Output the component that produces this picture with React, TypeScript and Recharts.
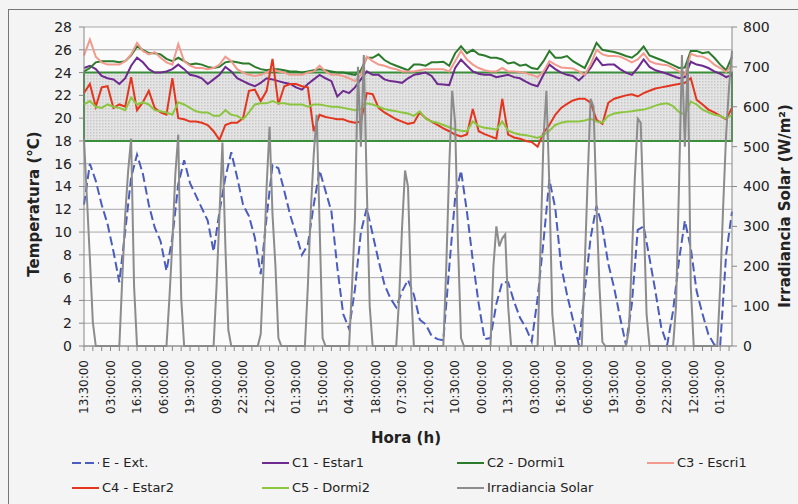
import { LineChart, Line, XAxis, YAxis, CartesianGrid, ReferenceArea } from 'recharts';

// time grid: hours since the first reading (13:30)
const TEMP_STEP = 3;
const SOLAR_STEP = 1.5;

const TICK_LABELS = [
  '13:30:00', '03:00:00', '16:30:00', '06:00:00', '19:30:00', '09:00:00', '22:30:00',
  '12:00:00', '01:30:00', '15:00:00', '04:30:00', '18:00:00', '07:30:00', '21:00:00',
  '10:30:00', '00:00:00', '13:30:00', '03:00:00', '16:30:00', '06:00:00', '19:30:00',
  '09:00:00', '22:30:00', '12:00:00', '01:30:00',
];
const TEMP_TICKS = [0, 2, 4, 6, 8, 10, 12, 14, 16, 18, 20, 22, 24, 26, 28];
const SOLAR_TICKS = [0, 100, 200, 300, 400, 500, 600, 700, 800];

// E - Ext. (°C), every 3 h
const EXT = [
  12.4, 16.0, 14.5, 12.4, 10.7, 8.3, 5.6, 10.1, 14.8, 16.8,
  15.1, 12.4, 10.4, 9.2, 6.6, 9.5, 14.2, 16.3, 14.3, 13.2,
  12.1, 11.0, 8.3, 11.8, 14.8, 17.0, 14.8, 12.4, 11.4, 9.5,
  6.3, 11.3, 15.9, 15.6, 13.6, 11.5, 9.8, 8.0, 8.9, 12.4,
  15.4, 13.6, 11.8, 6.9, 2.8, 1.5, 5.0, 10.0, 12.1, 9.8,
  7.5, 5.4, 4.2, 3.4, 4.8, 5.8, 4.5, 2.3, 1.9, 0.9,
  0.6, 0.5, 6.9, 13.0, 15.4, 11.8, 7.5, 3.7, 0.6, 0.7,
  3.7, 5.6, 5.6, 3.9, 2.5, 1.6, 0.4, 4.2, 9.2, 14.6,
  12.1, 7.0, 4.5, 2.3, 0.1, 4.8, 9.5, 12.3, 10.4, 7.2,
  5.1, 2.5, 0.1, 3.7, 10.2, 10.5, 7.7, 4.8, 1.6, 0.1,
  3.1, 7.5, 11.0, 8.6, 4.8, 2.8, 1.0, 0.1, 0.1, 8.0, 11.8,
];

// C1 - Estar1
const C1 = [
  24.4, 24.6, 24.3, 23.7, 23.5, 23.4, 23.0, 23.5, 24.6, 25.3,
  24.9, 24.3, 24.0, 24.0, 24.1, 24.3, 24.7, 24.3, 23.8, 23.7,
  23.5, 23.0, 23.4, 23.8, 24.5, 24.1, 23.5, 23.25, 23.0, 22.8,
  23.1, 23.5, 23.4, 23.25, 23.1, 23.0, 22.7, 22.5, 23.0, 23.4,
  23.8, 23.5, 23.25, 21.9, 22.4, 22.2, 22.7, 23.4, 24.1, 23.8,
  23.8, 23.4, 23.25, 23.2, 23.1, 23.5, 23.8, 23.9, 24.0, 23.7,
  23.0, 22.95, 22.9, 24.4, 25.15, 24.6, 24.1, 23.9, 23.8, 23.8,
  23.6, 23.7, 23.8, 23.6, 23.5, 23.2, 22.95, 22.8, 23.8, 24.7,
  24.3, 24.0, 23.8, 23.7, 23.3, 23.8, 24.4, 25.3, 24.65, 24.7,
  24.7, 24.3, 24.0, 23.8, 24.4, 25.15, 24.5, 24.2, 24.05, 23.9,
  23.7, 23.5, 23.6, 24.95, 24.7, 24.6, 24.4, 24.1, 23.9, 23.6, 23.8,
];

// C2 - Dormi1
const C2 = [
  24.1, 24.4, 24.9, 25.0, 25.0, 25.0, 24.9, 25.0, 25.5, 26.3,
  26.0, 25.7, 25.7, 25.6, 25.2, 25.0, 25.3, 25.0, 24.7, 24.8,
  24.7, 24.5, 24.4, 24.5, 24.9, 25.0, 24.9, 24.8, 24.8, 24.5,
  24.3, 24.2, 24.3, 24.3, 24.2, 24.1, 24.1, 24.0, 24.1, 24.2,
  24.3, 24.2, 24.1, 24.0, 24.0, 23.9, 23.8, 24.2, 25.3, 25.3,
  25.6, 25.1, 24.8, 24.6, 24.4, 24.2, 24.7, 24.7, 24.6, 24.9,
  24.9, 24.95, 24.6, 25.7, 26.3, 25.7, 26.0, 25.6, 25.5, 25.3,
  25.3, 25.15, 24.8, 24.9, 24.6, 24.7, 24.4, 24.3, 25.0, 25.9,
  25.3, 25.3, 25.45, 25.0, 24.7, 24.4, 25.45, 26.6, 26.0, 25.9,
  25.8, 25.65, 25.45, 25.3, 25.7, 26.3, 25.5, 25.3, 25.1, 24.9,
  24.65, 24.4, 24.45, 25.9, 25.9, 25.7, 25.8, 25.3, 24.7, 24.2, 25.4,
];

// C3 - Escri1
const C3 = [
  25.5, 26.9, 25.4, 24.9, 24.7, 24.7, 24.7, 25.0, 25.6, 26.6,
  25.9, 25.6, 25.8, 25.3, 24.9, 24.7, 26.5, 25.0, 24.6, 24.4,
  24.4, 24.3, 24.4, 24.7, 25.4, 25.0, 24.3, 24.0, 23.8, 23.7,
  23.8, 24.0, 24.3, 24.1, 24.0, 23.8, 23.8, 23.8, 24.0, 24.1,
  24.6, 24.1, 23.8, 23.8, 23.7, 23.5, 23.25, 23.8, 25.4, 25.0,
  24.7, 24.6, 24.4, 24.3, 24.1, 24.1, 24.1, 24.2, 24.3, 24.3,
  24.3, 24.3, 24.1, 25.0, 25.9, 25.15, 24.7, 24.4, 24.2, 24.1,
  24.1, 24.4, 24.1, 24.1, 24.05, 23.95, 23.8, 23.6, 24.1, 25.0,
  24.7, 24.45, 24.4, 24.35, 24.1, 23.8, 24.7, 26.0, 25.6, 25.45,
  25.45, 25.4, 25.15, 24.9, 25.15, 25.7, 25.0, 24.8, 24.7, 24.65,
  24.4, 24.1, 23.8, 25.65, 25.45, 25.4, 25.15, 24.7, 24.4, 24.05, 24.7,
];

// C4 - Estar2
const C4 = [
  22.2, 23.0, 21.0, 22.7, 22.8, 20.9, 21.2, 21.0, 23.6, 20.7,
  21.4, 22.4, 20.9, 20.5, 20.3, 23.5, 20.0, 19.9, 19.7, 19.7,
  19.6, 19.4, 18.85, 18.1, 19.4, 19.6, 19.6, 20.0, 22.4, 22.5,
  21.5, 22.4, 25.2, 21.2, 22.8, 23.0, 23.0, 22.8, 22.7, 18.85,
  20.3, 20.1, 20.0, 19.9, 19.9, 19.7, 19.6, 19.7, 22.2, 22.1,
  20.9, 20.5, 20.2, 19.9, 19.7, 19.5, 19.6, 20.5, 20.0, 19.7,
  19.4, 19.1, 18.85, 18.56, 18.4, 18.56, 20.8, 18.85, 18.6, 18.4,
  18.2, 21.7, 18.56, 18.3, 18.2, 18.0, 17.9, 17.5, 18.7, 19.4,
  20.3, 20.9, 21.25, 21.55, 21.7, 21.7, 21.35, 19.85, 19.5, 21.35,
  21.7, 21.85, 22.0, 22.1, 21.9, 22.2, 22.4, 22.6, 22.7, 22.8,
  22.9, 23.0, 23.1, 23.5, 21.6, 21.2, 20.75, 20.5, 20.2, 19.9, 20.9,
];

// C5 - Dormi2
const C5 = [
  21.2, 21.5, 21.0, 20.9, 21.2, 21.0, 20.9, 20.7, 21.8, 21.2,
  21.4, 21.2, 20.7, 20.6, 20.5, 20.3, 21.4, 21.2, 20.9, 20.6,
  20.5, 20.5, 20.2, 20.2, 20.7, 20.3, 20.2, 19.9, 20.5, 21.2,
  21.3, 21.3, 21.5, 21.3, 21.3, 21.2, 21.2, 21.2, 21.0, 21.2,
  21.2, 21.1, 21.0, 21.0, 20.9, 20.8, 20.7, 20.8, 21.3, 21.2,
  21.0, 20.8, 20.7, 20.6, 20.5, 20.4, 20.2, 20.6, 19.95, 19.7,
  19.6, 19.4, 19.2, 19.0, 18.9, 18.85, 19.7, 19.3, 19.15, 19.1,
  19.0, 19.7, 18.9, 18.7, 18.56, 18.5, 18.4, 18.26, 18.5, 18.9,
  19.4, 19.6, 19.7, 19.7, 19.7, 19.8, 19.95, 19.7, 19.6, 20.2,
  20.4, 20.5, 20.55, 20.6, 20.7, 20.75, 20.9, 21.1, 21.25, 21.3,
  21.05, 20.55, 20.3, 21.45, 21.2, 20.75, 20.5, 20.3, 20.2, 19.95, 20.3,
];

// Irradiancia Solar (W/m²), every 1.5 h, one row per day starting 13:30
const SOLAR = [
  520, 370, 220, 60, 0, 0, 0, 0, 0, 0, 0, 0, 0, 170, 330, 440,
  520, 150, 0, 0, 0, 0, 0, 0, 0, 0, 0, 0, 0, 120, 260, 430,
  530, 120, 0, 0, 0, 0, 0, 0, 0, 0, 0, 0, 0, 150, 330, 510,
  250, 40, 0, 0, 0, 0, 0, 0, 0, 0, 0, 0, 30, 200, 400, 550,
  330, 200, 20, 0, 0, 0, 0, 0, 0, 0, 0, 0, 150, 340, 480, 580,
  300, 20, 0, 0, 0, 0, 0, 0, 0, 0, 0, 150, 320, 700, 500, 730,
  400, 100, 0, 0, 0, 0, 0, 0, 0, 0, 0, 120, 300, 440, 400, 150,
  0, 0, 0, 0, 0, 0, 0, 0, 0, 0, 0, 200, 450, 640, 560, 250,
  20, 0, 0, 0, 0, 0, 0, 0, 0, 0, 0, 200, 300, 250, 270, 280,
  100, 0, 0, 0, 0, 0, 0, 0, 0, 0, 0, 250, 520, 640, 400, 80,
  0, 0, 0, 0, 0, 0, 0, 0, 0, 0, 200, 420, 620, 600, 350, 150,
  10, 0, 0, 0, 0, 0, 0, 0, 0, 40, 220, 420, 570, 560, 330, 80,
  0, 0, 0, 0, 0, 0, 0, 0, 0, 100, 400, 730, 500, 720, 150, 0,
  0, 0, 0, 0, 0, 0, 0, 0, 150, 350, 530, 650, 740,
];

const SERIES = [
  { name: 'E - Ext.', values: EXT, step: TEMP_STEP, axis: 'left', color: '#4a5cc0', dash: '9 4' },
  { name: 'C1 - Estar1', values: C1, step: TEMP_STEP, axis: 'left', color: '#6e2a8e' },
  { name: 'C2 - Dormi1', values: C2, step: TEMP_STEP, axis: 'left', color: '#2c7b2c' },
  { name: 'C3 - Escri1', values: C3, step: TEMP_STEP, axis: 'left', color: '#f39a8e' },
  { name: 'C4 - Estar2', values: C4, step: TEMP_STEP, axis: 'left', color: '#e4361f' },
  { name: 'C5 - Dormi2', values: C5, step: TEMP_STEP, axis: 'left', color: '#8cc640' },
  { name: 'Irradiancia Solar', values: SOLAR, step: SOLAR_STEP, axis: 'right', color: '#8c8c8c' },
];

const END_HOUR = (EXT.length - 1) * TEMP_STEP;
const LABEL_EVERY = 13.5;
const X_TICKS = Array.from({ length: Math.floor(END_HOUR / 4.5) + 1 }, (_, i) => i * 4.5);

const FONT = '"DejaVu Sans", Verdana, sans-serif';

function HourTick({ x, y, payload }: any) {
  const k = payload.value / LABEL_EVERY;
  const idx = Math.round(k);
  if (Math.abs(k - idx) > 1e-6 || !TICK_LABELS[idx]) return null;
  return (
    <text
      x={x}
      y={y}
      transform={`rotate(-90 ${x} ${y})`}
      textAnchor="end"
      dominantBaseline="central"
      fontSize={12}
      fontFamily={FONT}
      fill="#222"
    >
      {TICK_LABELS[idx]}
    </text>
  );
}

function LegendKey({ s }: { s: (typeof SERIES)[number] }) {
  return (
    <div style={{ display: 'flex', alignItems: 'center', height: 25 }}>
      <svg width={27} height={6} style={{ marginRight: 3 }}>
        <line x1={0} y1={3} x2={27} y2={3} stroke={s.color} strokeWidth={2} strokeDasharray={s.dash} />
      </svg>
      <span>{s.name}</span>
    </div>
  );
}

function AxisTitle({ text, cx, cy, rotate }: { text: string; cx: number; cy: number; rotate?: boolean }) {
  return (
    <div
      style={{
        position: 'absolute',
        left: cx,
        top: cy,
        transform: `translate(-50%, -50%)${rotate ? ' rotate(-90deg)' : ''}`,
        whiteSpace: 'nowrap',
        fontFamily: FONT,
        fontWeight: 'bold',
        fontSize: 15,
        color: '#222',
      }}
    >
      {text}
    </div>
  );
}

export default function App() {
  const tickStyle = { fontSize: 14, fill: '#222', fontFamily: FONT };
  return (
    <div style={{ position: 'absolute', left: 0, top: 0, width: 798, height: 504, overflow: 'hidden', background: '#f4f4f4' }}>
      <div style={{ position: 'absolute', left: 8, top: 9, width: 820, height: 520, border: '1px solid #777' }} />
      <LineChart width={798} height={504} margin={{ top: 27, right: 0, bottom: 98, left: 0 }} style={{ position: 'absolute', left: 0, top: 0 }}>
        <defs>
          <pattern id="dotFill" width={3} height={3} patternUnits="userSpaceOnUse">
            <rect width={3} height={3} fill="#e4e4e4" />
            <rect width={1.5} height={1.5} fill="#c8c8c8" />
          </pattern>
        </defs>
        <CartesianGrid yAxisId="left" vertical={false} stroke="#a8a8a8" fill="#fbfbfb" />
        <XAxis
          dataKey="t"
          type="number"
          domain={[0, END_HOUR]}
          ticks={X_TICKS}
          interval={0}
          tick={<HourTick />}
          tickSize={5}
          tickMargin={9}
          height={60}
          stroke="#888"
        />
        <YAxis
          yAxisId="left"
          domain={[0, 28]}
          ticks={TEMP_TICKS}
          interval={0}
          width={84}
          tickSize={5}
          tickMargin={7}
          tick={tickStyle}
          stroke="#888"
        />
        <YAxis
          yAxisId="right"
          orientation="right"
          domain={[0, 800]}
          ticks={SOLAR_TICKS}
          interval={0}
          width={66}
          tickSize={5}
          tickMargin={6}
          tick={tickStyle}
          stroke="#888"
        />
        <ReferenceArea yAxisId="left" y1={18} y2={24} fill="url(#dotFill)" fillOpacity={1} stroke="#3a8f3a" strokeWidth={2} />
        {SERIES.map((s) => (
          <Line
            key={s.name}
            yAxisId={s.axis}
            data={s.values.map((v, i) => ({ t: i * s.step, v }))}
            dataKey="v"
            name={s.name}
            stroke={s.color}
            strokeWidth={2}
            strokeDasharray={s.dash}
            dot={false}
            activeDot={false}
            isAnimationActive={false}
          />
        ))}
      </LineChart>
      <AxisTitle text="Temperatura (°C)" cx={34} cy={204} rotate />
      <AxisTitle text="Irradiancia Solar (W/m²)" cx={785} cy={206} rotate />
      <AxisTitle text="Hora (h)" cx={406} cy={438} />
      <div
        style={{
          position: 'absolute',
          left: 72,
          top: 450,
          display: 'grid',
          gridTemplateColumns: '190px 195px 190px 150px',
          fontFamily: FONT,
          fontSize: 13,
          color: '#222',
        }}
      >
        {SERIES.map((s) => (
          <LegendKey key={s.name} s={s} />
        ))}
      </div>
    </div>
  );
}
